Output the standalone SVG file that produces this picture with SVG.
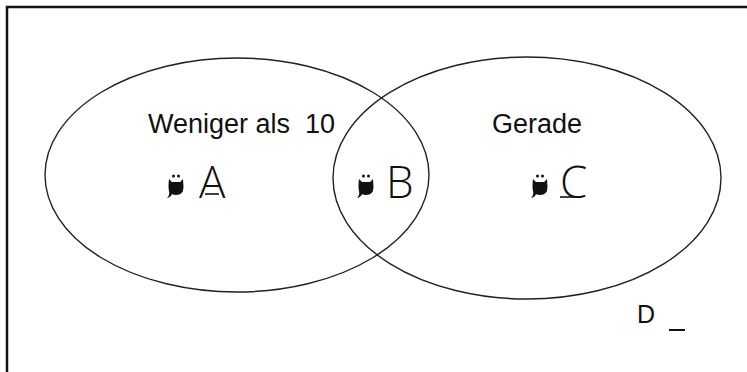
<svg xmlns="http://www.w3.org/2000/svg" width="747" height="372" viewBox="0 0 747 372">
<style>
.lbl{font-family:"Liberation Sans",Arial,sans-serif;font-size:27px;fill:#111;white-space:pre}
.big{font-family:"Open Sans","DejaVu Sans",sans-serif;font-size:44px;fill:#111;font-weight:300}
.ell{fill:none;stroke:#222;stroke-width:1.4}
.icon{fill:#111}
.bar{stroke:#111;stroke-width:1.6}
</style>
<defs>
<g id="bug">
<path class="icon" d="M-7,-7 L-4,-4 L4,-4 L7,-7 L7.5,1 Q7.5,9 0,9 Q-3,9 -4,8 Q-5,11 -9,12 Q-6,9 -7,5 Q-8,1 -7,-7 Z"/>
<circle class="icon" cx="-2.5" cy="-10" r="1.5"/><circle class="icon" cx="2.5" cy="-10" r="1.5"/>
</g>
</defs>
<rect width="747" height="372" fill="#fff"/>
<rect x="7" y="7" width="760" height="390" fill="none" stroke="#111" stroke-width="2.5"/>
<g id="set-left"><ellipse class="ell" cx="237" cy="175" rx="192" ry="117"/>
<text class="lbl" x="148" y="133" xml:space="preserve">Weniger als  10</text></g>
<g id="set-right"><ellipse class="ell" cx="527" cy="178" rx="194" ry="121"/>
<text class="lbl" x="492" y="133">Gerade</text></g>
<g id="item-A">
<use href="#bug" x="176" y="186"/>
<text class="big" x="199" y="198">A</text><line class="bar" x1="205" y1="194" x2="219" y2="194"/></g>
<g id="item-B">
<use href="#bug" x="366" y="186"/>
<text class="big" x="386" y="198">B</text></g>
<g id="item-C">
<use href="#bug" x="540" y="186"/>
<text class="big" x="560" y="198">C</text><line class="bar" x1="560" y1="197" x2="575" y2="197"/></g>
<g id="item-D"><text class="lbl" x="637" y="323" style="font-size:25px">D</text><line x1="669" y1="330" x2="685" y2="330" stroke="#111" stroke-width="2"/></g>
</svg>
